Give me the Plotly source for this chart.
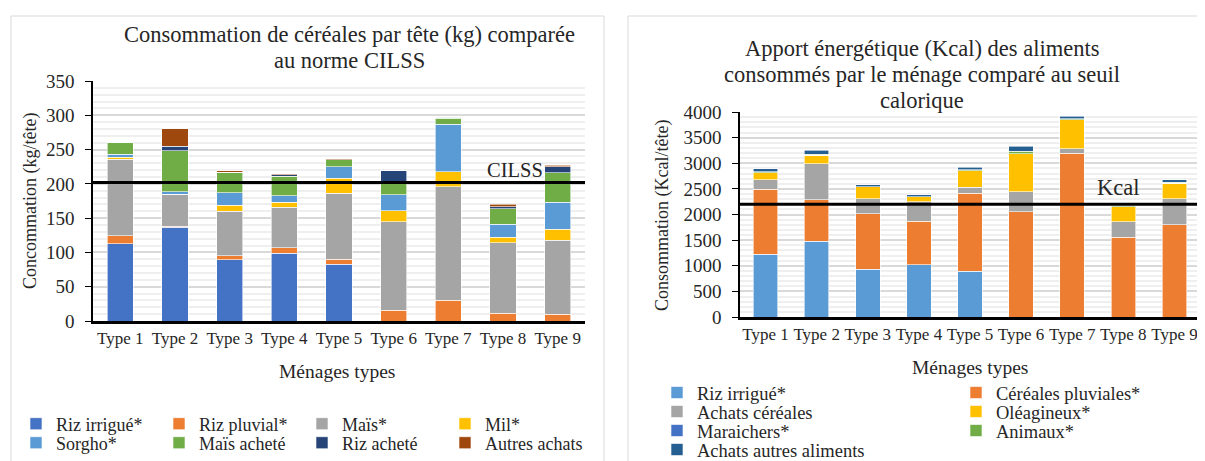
import plotly.graph_objects as go

W, H = 1205, 461
OFF = 8  # page body margin in the browser

types = ["Type 1", "Type 2", "Type 3", "Type 4", "Type 5", "Type 6", "Type 7", "Type 8", "Type 9"]

# Left chart: consommation de céréales par tête (kg)
riz_irrigue = [113, 137, 89, 99, 83, 0, 0, 0, 0]
riz_pluvial = [11, 1.5, 6, 8, 7, 16, 30, 11, 10]
mais = [112, 46, 65, 59, 96, 129, 166, 103, 108]
mil = [3, 0, 9, 7, 22, 16, 22, 8, 16]
sorgho = [4, 4, 18, 10, 17, 23, 69, 19, 39]
mais_achete = [17, 60, 30, 28, 10, 17, 9, 23, 43]
riz_achete = [0, 6, 0, 2, 0, 18, 1.5, 2.5, 9]
autres_achats = [0, 26, 2, 2, 1.5, 0, 0, 4, 2.5]
cilss = 202

# Right chart: apport énergétique (Kcal)
k_riz_irrigue = [1220, 1475, 927, 1024, 894, 0, 0, 0, 0]
k_cereales_pluviales = [1273, 815, 1089, 842, 1520, 2055, 3191, 1559, 1801]
k_achats_cereales = [189, 705, 294, 385, 118, 392, 91, 301, 509]
k_oleagineux = [137, 163, 235, 91, 326, 737, 568, 293, 300]
k_maraichers = [0, 0, 0, 0, 0, 0, 0, 0, 0]
k_animaux = [19, 15, 0, 0, 19, 52, 20, 26, 20]
k_achats_autres = [52, 85, 32, 40, 46, 92, 45, 5, 45]
seuil_kcal = 2200

FONT = "Liberation Serif"
TXT = "#262626"

left_series = [
    ("Riz irrigué*", riz_irrigue, "#4472C4", "legend"),
    ("Riz pluvial*", riz_pluvial, "#ED7D31", "legend"),
    ("Maïs*", mais, "#A5A5A5", "legend"),
    ("Mil*", mil, "#FFC000", "legend"),
    ("Sorgho*", sorgho, "#5B9BD5", "legend2"),
    ("Maïs acheté", mais_achete, "#70AD47", "legend2"),
    ("Riz acheté", riz_achete, "#264478", "legend2"),
    ("Autres achats", autres_achats, "#9E480E", "legend2"),
]
right_series = [
    ("Riz irrigué*", k_riz_irrigue, "#5B9BD5", "legend3"),
    ("Céréales pluviales*", k_cereales_pluviales, "#ED7D31", "legend3"),
    ("Achats céréales", k_achats_cereales, "#A5A5A5", "legend4"),
    ("Oléagineux*", k_oleagineux, "#FFC000", "legend4"),
    ("Maraichers*", k_maraichers, "#4472C4", "legend5"),
    ("Animaux*", k_animaux, "#70AD47", "legend5"),
    ("Achats autres aliments", k_achats_autres, "#255E91", "legend6"),
]

fig = go.Figure()
for name, vals, col, leg in left_series:
    fig.add_trace(go.Bar(x=types, y=vals, name=name, marker_color=col,
                         marker_line=dict(color="white", width=0.6),
                         xaxis="x", yaxis="y", legend=leg))
for name, vals, col, leg in right_series:
    fig.add_trace(go.Bar(x=types, y=vals, name=name, marker_color=col,
                         marker_line=dict(color="white", width=0.6),
                         xaxis="x2", yaxis="y2", legend=leg))

def px(x):
    return (x - OFF) / W

def py(y):
    return 1 - (y - OFF) / H

xfont = dict(family=FONT, size=17, color=TXT)
yfont = dict(family=FONT, size=19, color=TXT)

def xaxis_cfg(x0, x1, anchor):
    return dict(domain=[px(x0), px(x1)], anchor=anchor, showline=True, linecolor="black",
                linewidth=2.5, ticks="", range=[-0.5, 8.5], tickfont=xfont)

def yaxis_cfg(ybot, ytop, anchor, rng, dt, minor_dt):
    return dict(domain=[py(ybot), py(ytop)], anchor=anchor, range=rng, dtick=dt,
                showline=True, linecolor="black", linewidth=1.5,
                ticks="outside", ticklen=6, tickcolor="black", tickwidth=1.2,
                ticklabelstandoff=7, tickfont=yfont,
                showgrid=True, gridcolor="#D9D9D9", gridwidth=1.5, zeroline=False,
                minor=dict(dtick=minor_dt, showgrid=True, gridcolor="#EFEFEF", gridwidth=1.5))

fig.update_layout(
    width=W, height=H, margin=dict(l=0, r=0, t=0, b=0, autoexpand=False),
    paper_bgcolor="white", plot_bgcolor="white",
    barmode="stack", bargap=0.52,
    font=dict(family=FONT, color=TXT),
    xaxis=xaxis_cfg(93, 585, "y"),
    yaxis=yaxis_cfg(321, 81, "x", [0, 350], 50, 10),
    xaxis2=xaxis_cfg(740, 1200, "y2"),
    yaxis2=yaxis_cfg(317, 112, "x2", [0, 4000], 500, 100),
)

def legend_at(x_text, y_center, entry, size):
    return dict(orientation="h", x=px(x_text - 40), xanchor="left", y=py(y_center), yanchor="middle",
                entrywidth=entry, entrywidthmode="pixels",
                font=dict(family=FONT, size=size, color=TXT), bgcolor="rgba(0,0,0,0)",
                traceorder="normal", itemclick=False, itemdoubleclick=False)

fig.update_layout(
    legend=legend_at(56, 424, 98, 18),
    legend2=legend_at(56, 443, 98, 18),
    legend3=legend_at(697, 393, 254, 18.5),
    legend4=legend_at(697, 412, 254, 18.5),
    legend5=legend_at(697, 431, 254, 18.5),
    legend6=legend_at(697, 450, 254, 18.5),
)

# Reference lines
fig.add_shape(type="line", xref="x domain", yref="y", x0=0, x1=1, y0=cilss, y1=cilss,
              line=dict(color="black", width=3))
fig.add_shape(type="line", xref="x2 domain", yref="y2", x0=0, x1=1, y0=seuil_kcal, y1=seuil_kcal,
              line=dict(color="black", width=3))

# Panel borders
fig.add_shape(type="rect", xref="paper", yref="paper", x0=px(11), x1=px(604), y0=-0.2, y1=py(16),
              line=dict(color="#D9D9D9", width=1), layer="below")
fig.add_shape(type="rect", xref="paper", yref="paper", x0=px(628), x1=1.2, y0=-0.2, y1=py(16),
              line=dict(color="#D9D9D9", width=1), layer="below")

def ann(text, x, y, size, angle=0):
    fig.add_annotation(text=text, x=px(x), y=py(y), xref="paper", yref="paper",
                       showarrow=False, textangle=angle, xanchor="center", yanchor="middle",
                       font=dict(family=FONT, size=size, color=TXT))

ann("Consommation de céréales par tête (kg) comparée", 349, 35, 22.5)
ann("au norme CILSS", 349, 60, 22.5)
ann("Apport énergétique (Kcal) des aliments", 922, 48, 22.5)
ann("consommés par le ménage comparé au seuil", 922, 74, 22.5)
ann("calorique", 922, 100, 22.5)
ann("Concommation (kg/tête)", 30, 201, 18, -90)
ann("Consommation (Kcal/tête)", 662, 216, 18, -90)
ann("Ménages types", 337, 371, 19.5)
ann("Ménages types", 970, 367, 19.5)
ann("CILSS", 515, 170, 20.5)
ann("Kcal", 1118, 188, 22.5)

fig.write_html("out.html")
